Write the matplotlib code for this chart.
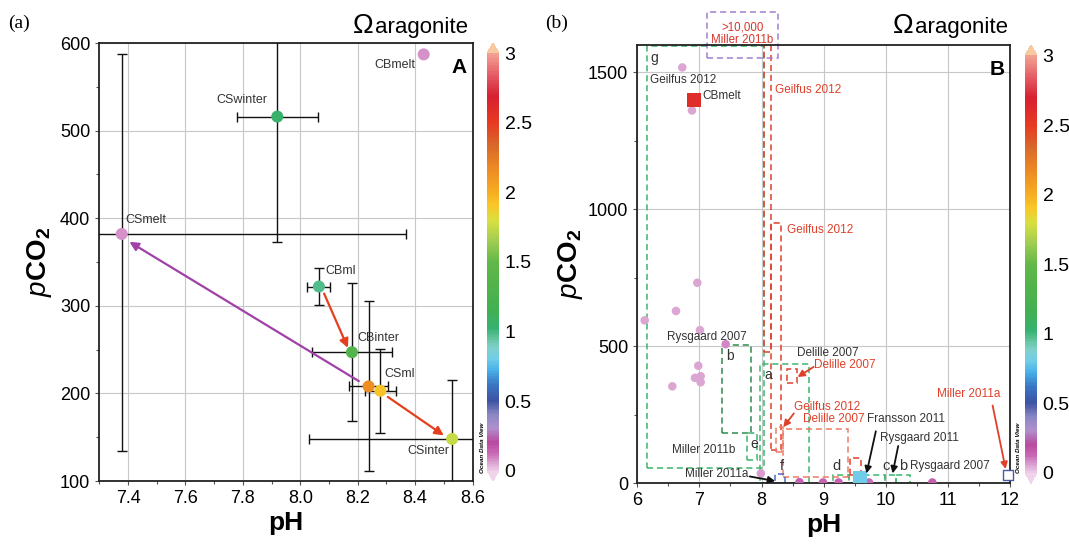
import matplotlib
matplotlib.use("Agg")
import matplotlib.pyplot as plt
import numpy as np
from matplotlib.colors import LinearSegmentedColormap, Normalize
from matplotlib.patches import Rectangle
from matplotlib.ticker import MultipleLocator

plt.rcParams['font.family'] = ['Liberation Sans', 'DejaVu Sans']
plt.rcParams['mathtext.fontset'] = 'custom'
plt.rcParams['mathtext.rm'] = 'Liberation Sans'
plt.rcParams['mathtext.it'] = 'Liberation Sans:italic'
plt.rcParams['mathtext.bf'] = 'Liberation Sans:bold'

# ---------------- data: panel (a) ----------------
a_names = ['CBmelt', 'CSwinter', 'CSmelt', 'CBml', 'CBinter', '', 'CSml', 'CSinter']
a_ph = [8.43, 7.92, 7.378, 8.065, 8.18, 8.238, 8.279, 8.529]
a_pco2 = [587, 516, 382, 322, 247, 208, 203, 148]
a_omega = [0.08, 1.05, 0.08, 0.98, 1.35, 2.15, 1.92, 1.75]
a_xerr_lo = [0, 0.142, 1.0, 0.04, 0.14, 0.069, 0.055, 0.5]
a_xerr_hi = [0, 0.142, 0.99, 0.04, 0.14, 0.069, 0.055, 0.5]
a_yerr_lo = [0, 143, 248, 21, 79, 97, 48, 67]
a_yerr_hi = [0, 143, 206, 21, 79, 97, 48, 67]
# arrows (start pH, start pCO2, end pH, end pCO2)
a_arrows = [(8.204, 214, 7.405, 373, '#a040a8'),
            (8.083, 314, 8.166, 252, '#e4401e'),
            (8.305, 196, 8.50, 152, '#e4401e')]

# ---------------- data: panel (b) ----------------
b_ph = [6.724, 6.88, 6.966, 6.623, 6.119, 7.009, 7.423, 6.982, 6.929, 7.02, 7.02, 6.564,
        7.99, 8.61, 8.99, 9.24, 9.73, 10.75]
b_pco2 = [1518, 1361, 732, 629, 595, 559, 508, 429, 385, 391, 369, 354,
          36, 4, 3, 3, 3, 3]
b_omega = [0.05, 0.05, 0.05, 0.05, 0.05, 0.05, 0.09, 0.05, 0.05, 0.05, 0.05, 0.05,
           0.07, 0.15, 0.13, 0.15, 0.12, 0.15]
b_sq_ph = [6.913, 9.585]
b_sq_pco2 = [1399, 20]
b_sq_omega = [2.6, 0.8]
b_open_ph = [11.97]
b_open_pco2 = [30]

# boxes: (ph0, ph1, pco2_0, pco2_1, colour, label)
green = '#3db56e'
dkgreen = '#2e8b4e'
red = '#e0402a'
salmon = '#ef7b63'
b_boxes = [
    (6.15, 8.04, 57, 1595, green, 'g'),
    (7.36, 7.825, 182, 505, dkgreen, 'b'),
    (7.76, 7.93, 85, 185, green, 'e'),
    (7.975, 8.77, 2, 435, green, 'a'),
    (9.145, 9.41, 1, 30, green, ''),
    (9.41, 9.99, 1, 30, green, ''),
    (9.99, 10.17, 1, 30, green, ''),
    (10.17, 10.39, 1, 30, green, ''),
    (8.04, 8.15, 480, 1600, red, ''),
    (8.15, 8.32, 120, 950, red, ''),
    (8.24, 8.34, 115, 206, salmon, ''),
    (8.34, 9.40, 24, 200, salmon, ''),
    (8.405, 8.565, 367, 416, red, ''),
    (9.42, 9.60, 30, 91, red, ''),
    (8.22, 8.38, 1, 34, '#4a68c0', ''),
]

cmap_pts = [
    (0.00, '#ecc8e6'), (0.05, '#dba4d2'), (0.12, '#c868b4'), (0.20, '#b84aa0'),
    (0.30, '#b090cc'), (0.40, '#8a86c4'), (0.50, '#3c52a2'), (0.62, '#3a78c6'),
    (0.72, '#48b0e8'), (0.80, '#70cce8'), (0.88, '#80d0cc'), (0.95, '#62c49c'),
    (1.02, '#36b272'), (1.15, '#40b052'), (1.35, '#52b44a'), (1.50, '#62b848'),
    (1.65, '#a0cc52'), (1.80, '#d8e040'), (1.90, '#f8c828'), (2.02, '#f6aa22'),
    (2.20, '#ea8424'), (2.35, '#d8662a'), (2.50, '#e83a22'), (2.70, '#d62030'),
    (2.85, '#e45c66'), (3.00, '#f2a090')]
cmap = LinearSegmentedColormap.from_list(
    'odv', [(v / 3.0, c) for v, c in cmap_pts])
cmap.set_under('#f0d4ea')
cmap.set_over('#f8c8a0')
norm = Normalize(0, 3)

fig = plt.figure(figsize=(10.69, 5.45), dpi=100)
W, H = 1069, 545


def fr(x0, y0, x1, y1):
    return [x0 / W, 1 - y1 / H, (x1 - x0) / W, (y1 - y0) / H]


axA = fig.add_axes(fr(99.3, 43, 472.5, 481))
axB = fig.add_axes(fr(637.3, 45, 1010, 483.3))
caxA = fig.add_axes(fr(487, 43, 499, 481))
caxB = fig.add_axes(fr(1025, 45, 1037, 483.3))

gridc = '#c8c8c8'
for ax in (axA, axB):
    for s in ax.spines.values():
        s.set_linewidth(1.3)
        s.set_color('#222222')
    ax.tick_params(which='both', direction='out', length=3, width=0.8,
                   labelsize=13, color='#555555')
    ax.tick_params(which='minor', length=2.5)
    ax.grid(True, which='major', color=gridc, lw=0.8, zorder=0)
    ax.set_axisbelow(True)

# ---------------- panel (a) ----------------
axA.set_xlim(7.3, 8.6)
axA.set_ylim(100, 600)
axA.xaxis.set_major_locator(MultipleLocator(0.2))
axA.xaxis.set_minor_locator(MultipleLocator(0.1))
axA.yaxis.set_major_locator(MultipleLocator(100))
axA.yaxis.set_minor_locator(MultipleLocator(50))
axA.set_xticks([7.4, 7.6, 7.8, 8.0, 8.2, 8.4, 8.6])
axA.set_xticklabels(['7.4', '7.6', '7.8', '8.0', '8.2', '8.4', '8.6'])

for i in range(len(a_ph)):
    if a_xerr_hi[i] > 0:
        axA.errorbar(a_ph[i], a_pco2[i],
                     xerr=[[a_xerr_lo[i]], [a_xerr_hi[i]]],
                     yerr=[[a_yerr_lo[i]], [a_yerr_hi[i]]],
                     fmt='none', ecolor='#111111', elinewidth=1.0,
                     capsize=3.5, capthick=1.0, zorder=3)
axA.scatter(a_ph, a_pco2, c=a_omega, cmap=cmap, norm=norm, s=75,
            edgecolors='none', zorder=5)
for x0, y0, x1, y1, col in a_arrows:
    axA.annotate('', xy=(x1, y1), xytext=(x0, y0),
                 arrowprops=dict(arrowstyle='-|>', color=col, lw=1.6,
                                 mutation_scale=13, shrinkA=0, shrinkB=0),
                 zorder=4)

a_lab_off = {'CBmelt': (-6, -8, 'right'), 'CSwinter': (-7, 12, 'right'),
             'CSmelt': (3, 10, 'left'), 'CBml': (5, 11, 'left'),
             'CBinter': (4, 10, 'left'), 'CSml': (3, 12, 'left'),
             'CSinter': (-2, -9, 'right')}
for n, x, y in zip(a_names, a_ph, a_pco2):
    if n:
        dx, dy, ha = a_lab_off[n]
        axA.annotate(n, (x, y), xytext=(dx, dy), textcoords='offset points',
                     ha=ha, va='center', fontsize=9, color='#333333', zorder=6)

axA.text(0.985, 0.965, 'A', transform=axA.transAxes, ha='right', va='top',
         fontsize=15, fontweight='bold')
axA.set_xlabel('pH', fontsize=19, fontweight='bold', labelpad=3)
axA.set_ylabel(r'$\mathit{p}\mathbf{CO}_{\mathbf{2}}$', fontsize=20, labelpad=4)

# ---------------- panel (b) ----------------
axB.set_xlim(6, 12)
axB.set_ylim(0, 1600)
axB.xaxis.set_major_locator(MultipleLocator(1))
axB.xaxis.set_minor_locator(MultipleLocator(0.5))
axB.yaxis.set_major_locator(MultipleLocator(500))
axB.yaxis.set_minor_locator(MultipleLocator(250))

for p0, p1, c0, c1, col, lab in b_boxes:
    axB.add_patch(Rectangle((p0, c0), p1 - p0, c1 - c0, fill=False,
                            edgecolor=col, lw=1.1, ls=(0, (4, 2.5)), zorder=2))
    if lab:
        axB.annotate(lab, (p0, c1), xytext=(3, -3), textcoords='offset points',
                     ha='left', va='top', fontsize=10, color='#333333', zorder=6)

axB.scatter(b_ph, b_pco2, c=b_omega, cmap=cmap, norm=norm, s=38,
            edgecolors='none', zorder=5)
axB.scatter(b_sq_ph, b_sq_pco2, c=b_sq_omega, cmap=cmap, norm=norm, s=110,
            marker='s', edgecolors='none', zorder=5)
axB.scatter(b_open_ph, b_open_pco2, s=55, marker='s', facecolors='white',
            edgecolors='#4a58a8', linewidths=1.0, zorder=5, clip_on=False)

# purple box above the axes
axB.add_patch(Rectangle((7.13, 1552), 8.26 - 7.13, 1720 - 1552, fill=False,
                        edgecolor='#a080d0', lw=1.1, ls=(0, (4, 2.5)),
                        clip_on=False, zorder=2))
axB.text(7.695, 1640, '>10,000\nMiller 2011b', ha='center', va='center',
         fontsize=8.3, color='#d8342a', linespacing=1.05, clip_on=False)

blk = '#333333'
b_texts = [
    (6.2, 1472, 'Geilfus 2012', blk, 'left'),
    (7.05, 1414, 'CBmelt', blk, 'left'),
    (8.21, 1435, 'Geilfus 2012', red, 'left'),
    (8.41, 925, 'Geilfus 2012', red, 'left'),
    (7.12, 533, 'Rysgaard 2007', blk, 'center'),
    (8.57, 474, 'Delille 2007', blk, 'left'),
    (8.85, 431, 'Delille 2007', red, 'left'),
    (8.52, 279, 'Geilfus 2012', red, 'left'),
    (8.67, 234, 'Delille 2007', red, 'left'),
    (9.69, 234, 'Fransson 2011', blk, 'left'),
    (9.905, 164, 'Rysgaard 2011', blk, 'left'),
    (10.39, 64, 'Rysgaard 2007', blk, 'left'),
    (10.28, 64, 'b', blk, 'center'),
    (10.0, 64, 'c', blk, 'center'),
    (9.2, 64, 'd', blk, 'center'),
    (8.32, 64, 'f', blk, 'center'),
    (7.07, 122, 'Miller 2011b', blk, 'center'),
    (7.79, 34, 'Miller 2011a', blk, 'right'),
    (11.34, 325, 'Miller 2011a', red, 'center'),
]
for x, y, t, col, ha in b_texts:
    fs = 10.5 if len(t) == 1 else 8.5
    axB.text(x, y, t, ha=ha, va='center', fontsize=fs, color=col, zorder=6)

b_arrows = [
    (8.84, 425, 8.58, 388, red),
    (8.52, 255, 8.35, 205, red),
    (7.81, 25, 8.22, 8, '#111111'),
    (9.84, 190, 9.69, 36, '#111111'),
    (10.2, 136, 10.11, 36, '#111111'),
    (11.72, 284, 11.93, 52, red),
]
for x0, y0, x1, y1, col in b_arrows:
    axB.annotate('', xy=(x1, y1), xytext=(x0, y0),
                 arrowprops=dict(arrowstyle='-|>', color=col, lw=1.3,
                                 mutation_scale=10, shrinkA=0, shrinkB=0),
                 zorder=6)

axB.text(0.985, 0.965, 'B', transform=axB.transAxes, ha='right', va='top',
         fontsize=15, fontweight='bold')
axB.set_xlabel('pH', fontsize=19, fontweight='bold', labelpad=3)
axB.set_ylabel(r'$\mathit{p}\mathbf{CO}_{\mathbf{2}}$', fontsize=20, labelpad=2)

# ---------------- colorbars ----------------
sm = plt.cm.ScalarMappable(norm=norm, cmap=cmap)
for cax in (caxA, caxB):
    cb = fig.colorbar(sm, cax=cax, extend='both', extendfrac=0.025,
                      ticks=[0, 0.5, 1, 1.5, 2, 2.5, 3])
    cb.outline.set_visible(False)
    cb.ax.tick_params(length=0, labelsize=14, pad=4)
    cb.set_ticklabels(['0', '0.5', '1', '1.5', '2', '2.5', '3'])

for xpix in (482, 1018):
    fig.text(xpix / W, 1 - 448 / H, 'Ocean Data View', rotation=90,
             fontsize=4.5, fontstyle='italic', fontweight='bold',
             ha='center', va='center')

# titles
fig.canvas.draw()
renderer = fig.canvas.get_renderer()
for xr in (468, 1008):
    t = fig.text(xr / W, 1 - 33 / H, 'aragonite', fontsize=16, ha='right',
                 va='baseline')
    bb = t.get_window_extent(renderer)
    fig.text(bb.x0 / W - 0.001, 1 - 33 / H, 'Ω', fontsize=20, ha='right',
             va='baseline')

fig.text(8 / W, 1 - 28 / H, '(a)', fontsize=14, family=['Liberation Serif'])
fig.text(545 / W, 1 - 28 / H, '(b)', fontsize=14, family=['Liberation Serif'])

fig.savefig('out.png', dpi=100)
